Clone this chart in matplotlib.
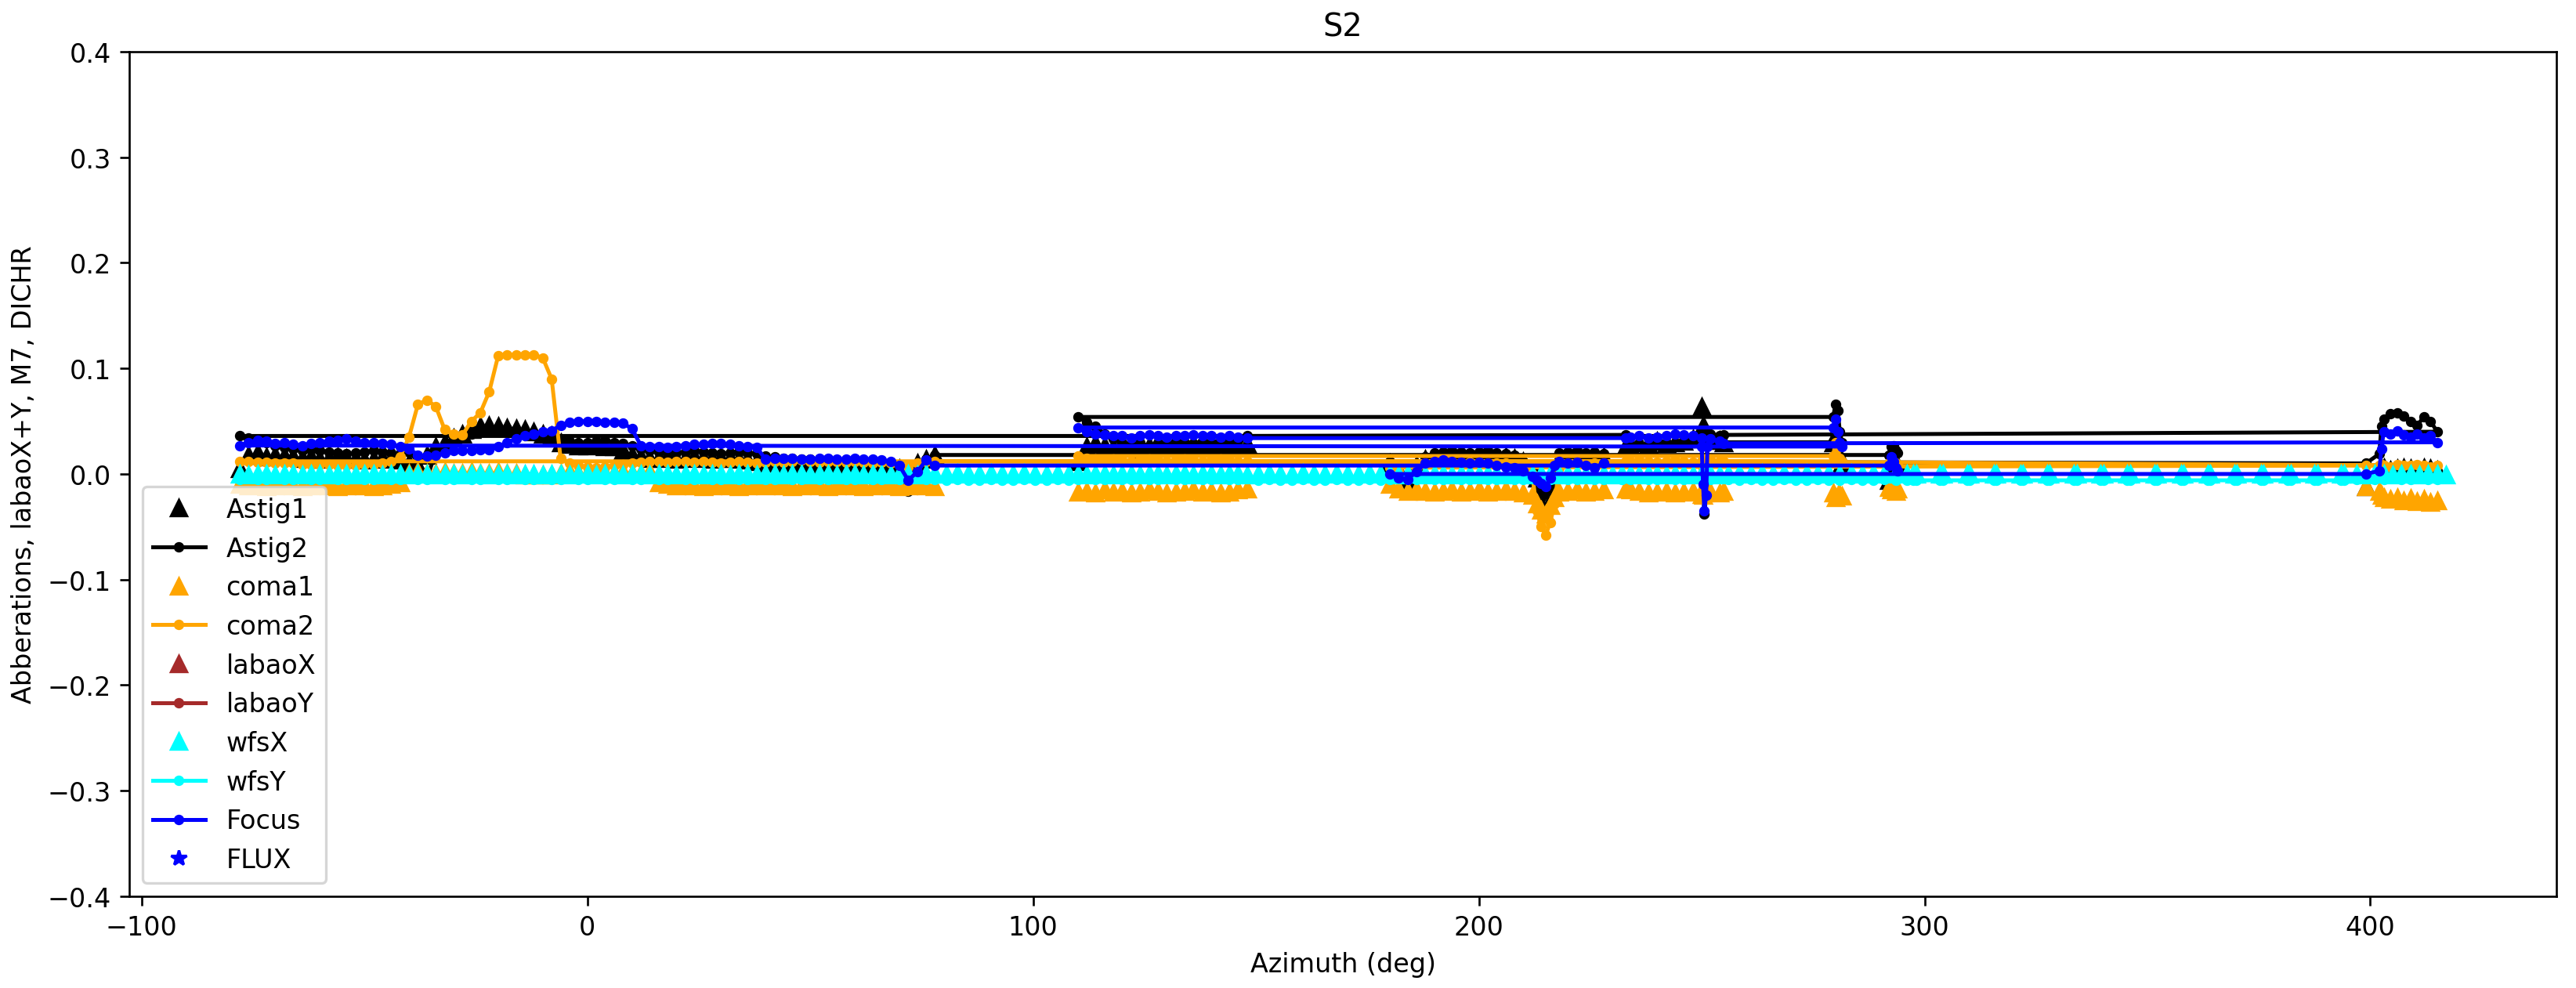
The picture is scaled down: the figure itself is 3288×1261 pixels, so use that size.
import matplotlib
matplotlib.use("Agg")
import matplotlib.pyplot as plt

# aberration samples in time order
# segments: C (228->180), G (399->415), D (255->233), B (148->110),
#           E (~280), D2 (~250 spike), A (-78->78), F (~293)
az = [228, 226, 224, 222, 220, 218, 217, 216, 215, 214, 213, 212, 210, 208,
      206, 204, 202, 200, 198, 196, 194, 192, 190, 188, 186, 184, 182, 180,
      399.0, 402.0, 402.5, 403.0, 404.5, 406.0, 407.5, 409.0, 410.5, 412.0, 413.5, 415.0,
      255, 254, 252, 250, 248, 246, 244, 242, 240, 238, 236, 234, 233,
      148, 146, 144, 142, 140, 138, 136, 134, 132, 130, 128, 126, 124, 122, 120,
      118, 116, 114, 112, 110,
      279.5, 280.0, 280.5, 281.0, 281.5,
      250.0, 250.3, 250.6, 251.0, 251.3,
      -78, -76, -74, -72, -70, -68, -66, -64, -62, -60,
      -58, -56, -54, -52, -50, -48, -46, -44, -42, -40,
      -38, -36, -34, -32, -30, -28, -26, -24, -22, -20,
      -18, -16, -14, -12, -10, -8, -6, -4, -2, 0,
      2, 4, 6, 8, 10, 12, 14, 16, 18, 20,
      22, 24, 26, 28, 30, 32, 34, 36, 38, 40,
      42, 44, 46, 48, 50, 52, 54, 56, 58, 60,
      62, 64, 66, 68, 70, 72, 74, 76, 78,
      292.0, 292.5, 293.0, 293.5, 294.0]

astig1 = [.016, .015, .016, .017, .016, .014, .004, -.008, -.015, -.010, -.004, .004, .012, .015,
          .016, .015, .016, .017, .016, .015, .016, .017, .016, .014, .008, -.006, .004, .010,
          -.012, .000, .005, .006, .004, .005, .006, .005, .004, .006, .005, .004,
          .030, .032, .034, .036, .033, .031, .030, .029, .031, .028, .030, .027, .026,
          .028, .026, .027, .025, .028, .026, .027, .025, .026, .028, .025, .027, .024, .026, .028,
          .025, .027, .029, .026, .012,
          .030, .036, .020, .006, .008,
          .064, .046, .040, .035, .032,
          .005, .018, .020, .016, .018, .017, .016, .015, .016, .014,
          .015, .016, .015, .014, .013, .014, .015, .014, .013, .010,
          .008, .018, .026, .030, .034, .038, .042, .045, .046, .045,
          .044, .043, .042, .040, .038, .036, .030, .028, .027, .027,
          .028, .026, .026, .022, .018, .016, .015, .015, .016, .014,
          .015, .016, .015, .014, .015, .015, .014, .013, .012, .010,
          .010, .009, .009, .009, .008, .008, .008, .009, .008, .008,
          .008, .007, .007, .006, .005, .003, .010, .014, .018,
          -.006, .012, .015, .010, .008]

astig2 = [.019, .021, .020, .022, .021, .020, .005, -.018, -.032, -.022, -.010, .002, .012, .018,
          .019, .020, .022, .021, .020, .021, .022, .021, .020, .016, .005, -.012, .000, .012,
          .010, .019, .045, .052, .057, .058, .055, .050, .046, .054, .050, .040,
          .037, .036, .038, .035, .030, .032, .029, .030, .031, .028, .027, .028, .037,
          .036, .032, .030, .031, .030, .031, .029, .030, .031, .028, .030, .026, .030, .028, .030,
          .033, .038, .045, .049, .054,
          .054, .066, .060, .040, .030,
          .030, -.015, -.038, -.020, .036,
          .036, .034, .032, .030, .027, .025, .024, .022, .023, .022,
          .021, .020, .019, .020, .021, .022, .021, .020, .019, .021,
          .012, -.004, .020, .028, .032, .035, .038, .041, .043, .044,
          .043, .041, .039, .036, .034, .032, .033, .031, .030, .030,
          .031, .032, .030, .029, .027, .024, .022, .021, .020, .020,
          .021, .022, .021, .020, .019, .020, .021, .020, .019, .017,
          .016, .015, .015, .014, .014, .013, .013, .012, .013, .012,
          .012, .011, .011, .010, .004, -.016, .006, .014, .018,
          .018, .026, .027, .022, .020]

coma1 = [-.015, -.016, -.017, -.015, -.016, -.017, -.022, -.030, -.038, -.034, -.028, -.020, -.018, -.016,
         -.015, -.016, -.017, -.015, -.016, -.017, -.015, -.016, -.017, -.016, -.015, -.016, -.014, -.010,
         -.012, -.016, -.020, -.022, -.024, -.022, -.025, -.023, -.026, -.024, -.027, -.025,
         -.016, -.018, -.017, -.019, -.016, -.017, -.018, -.016, -.017, -.018, -.016, -.015, -.014,
         -.014, -.015, -.017, -.018, -.016, -.017, -.015, -.016, -.017, -.018, -.016, -.015, -.017, -.018, -.016,
         -.017, -.015, -.018, -.016, -.017,
         -.018, -.022, -.020, -.019, -.021,
         -.016, -.020, -.018, -.015, -.016,
         -.010, -.011, -.010, -.012, -.011, -.010, -.011, -.012, -.011, -.010,
         -.011, -.012, -.011, -.010, -.011, -.012, -.011, -.010, -.008, .001,
         .002, .001, .001, .002, .001, .001, .002, .001, .001, .002,
         .001, .001, -.001, -.001, -.001, -.001, .001, .002, .001, .001,
         .002, .001, .001, .002, .001, .001, .002, -.008, -.010, -.011,
         -.010, -.011, -.012, -.011, -.010, -.011, -.012, -.011, -.010, -.011,
         -.010, -.011, -.012, -.011, -.010, -.011, -.012, -.011, -.010, -.011,
         -.012, -.011, -.010, -.011, -.012, -.011, -.010, -.011, -.012,
         -.013, -.015, -.014, -.016, -.014]

coma2 = [.009, .010, .009, .010, .009, .006, -.028, -.046, -.058, -.050, -.035, .000, .008, .009,
         .010, .010, .009, .010, .011, .010, .009, .010, .010, .009, .006, -.004, .002, .006,
         .008, .008, .009, .008, .007, .009, .008, .008, .009, .008, .007, .008,
         .012, .012, .013, .012, .011, .012, .013, .012, .011, .012, .013, .012, .012,
         .012, .012, .013, .014, .013, .012, .013, .014, .013, .012, .013, .014, .013, .012, .013,
         .014, .013, .014, .015, .017,
         .017, .030, .025, .015, .012,
         .012, .005, .000, .008, .012,
         .012, .012, .011, .011, .010, .010, .010, .009, .009, .009,
         .009, .008, .008, .008, .009, .009, .010, .012, .016, .035,
         .066, .070, .064, .042, .038, .037, .050, .058, .078, .112,
         .113, .113, .113, .113, .110, .090, .015, .010, .008, .007,
         .006, .007, .008, .009, .010, .011, .012, .012, .011, .012,
         .012, .011, .012, .011, .010, .011, .012, .011, .010, .011,
         .012, .011, .012, .013, .012, .011, .012, .012, .011, .012,
         .011, .010, .011, .010, .009, .007, .010, .012, .012,
         .010, .012, .011, .010, .009]

focus = [.010, .006, .008, .011, .010, .012, .008, -.004, -.012, -.009, -.006, -.002, .003, .006,
         .007, .008, .010, .011, .010, .011, .012, .013, .012, .010, .002, -.005, -.004, .000,
         .000, .003, .024, .040, .038, .041, .037, .035, .038, .034, .036, .030,
         .029, .031, .033, .034, .036, .037, .038, .036, .035, .034, .036, .035, .034,
         .034, .035, .036, .035, .036, .036, .037, .036, .036, .035, .036, .037, .036, .034, .036,
         .036, .037, .038, .040, .044,
         .044, .052, .040, .030, .026,
         .026, -.010, -.035, -.020, .026,
         .027, .030, .032, .031, .029, .030, .028, .027, .029, .030,
         .031, .032, .033, .031, .030, .030, .029, .028, .026, .024,
         .018, .017, .018, .020, .022, .022, .022, .023, .023, .026,
         .030, .033, .036, .038, .040, .041, .046, .049, .050, .050,
         .050, .049, .049, .048, .043, .027, .026, .026, .025, .026,
         .027, .028, .028, .029, .029, .028, .027, .026, .025, .014,
         .015, .015, .015, .014, .014, .015, .015, .014, .014, .015,
         .014, .014, .013, .012, .008, -.006, .002, .013, .008,
         .008, .016, .012, .006, .003]

# wavefront sensor samples (own sampling, sparse between ~297 and ~394)
wfs_az = [-78, -76, -74, -72, -70, -68, -66, -64, -62, -60,
          -58, -56, -54, -52, -50, -48, -46, -44, -42, -40,
          -38, -36, -34, -32, -30, -28, -26, -24, -22, -20,
          -18, -16, -14, -12, -10, -8, -6, -4, -2, 0,
          2, 4, 6, 8, 10, 12, 14, 16, 18, 20,
          22, 24, 26, 28, 30, 32, 34, 36, 38, 40,
          42, 44, 46, 48, 50, 52, 54, 56, 58, 60,
          62, 64, 66, 68, 70, 72, 74, 76, 78,
          80.5, 83, 85.5, 88, 90.5, 93, 95.5, 98, 100.5, 103, 105.5, 108,
          110, 112, 114, 116, 118, 120, 122, 124, 126, 128,
          130, 132, 134, 136, 138, 140, 142, 144, 146, 148,
          150.5, 153, 155.5, 158, 160.5, 163, 165.5, 168, 170.5, 173, 175.5, 178,
          180, 182, 184, 186, 188, 190, 192, 194, 196, 198,
          200, 202, 204, 206, 208, 210, 212, 214, 216, 218,
          220, 222, 224, 226, 228, 230, 232, 234, 236, 238,
          240, 242, 244, 246, 248, 250, 252, 254, 256,
          258.5, 261, 263.5, 266, 268.5, 271, 273.5, 276,
          278.5, 281, 283.5, 286, 288.5, 291, 293.5, 296,
          297.5, 298.1, 303.5, 304.1, 309.5, 310.1, 315.5, 316.1, 321.5, 322.1,
          327.5, 328.1, 333.5, 334.1, 339.5, 340.1, 345.5, 346.1, 351.5, 352.1,
          357.5, 358.1, 363.5, 364.1, 369.5, 370.1, 375.5, 376.1, 381.5, 382.1,
          387.5, 388.1, 393.5, 394.1,
          397, 399, 401, 403, 405, 407, 409, 411, 413, 415, 417]

wfsX = [.000, -.001, .000, .000, -.001, .000, .000, -.001, .000, .000,
        -.001, .000, .000, -.001, .000, .000, -.001, .000, .000, -.001,
        .000, .000, -.001, .000, .000, -.001, .000, .000, -.001, .000,
        .000, -.001, .000, .000, -.001, .000, .000, -.001, .000, .000,
        -.001, .000, .000, -.001, .000, .000, -.001, .000, .000, -.001,
        .000, .000, -.001, .000, .000, -.001, .000, .000, -.001, .000,
        .000, -.001, .000, .000, -.001, .000, .000, -.001, .000, .000,
        -.001, .000, .000, -.001, .000, .000, -.001, .000, .000,
        .000, .001, .000, .000, .001, .000, .000, .001, .000, .000, .001, .000,
        .000, -.001, .000, .000, -.001, .000, .000, -.001, .000, .000,
        -.001, .000, .000, -.001, .000, .000, -.001, .000, .000, -.001,
        .000, .001, .000, .000, .001, .000, .000, .001, .000, .000, .001, .000,
        .000, -.001, .000, .000, -.001, .000, .000, -.001, .000, .000,
        -.001, .000, .000, -.001, .000, .000, -.001, .000, .000, -.001,
        .000, .000, -.001, .000, .000, -.001, .000, .000, -.001, .000,
        .000, -.001, .000, .000, -.001, .000, .000, -.001, .000,
        .001, .000, .001, .000, .001, .000, .001, .000,
        .001, .000, .001, .000, .001, .000, .001, .000,
        .000, .000, .000, .000, .000, .000, .000, .000, .000, .000,
        .000, .000, .000, .000, .000, .000, .000, .000, .000, .000,
        .000, .000, .000, .000, .000, .000, .000, .000, .000, .000,
        .000, .000, .000, .000,
        .000, -.001, .000, .000, -.001, .000, .000, -.001, .000, .000, -.001]

wfsY = [-.005, -.004, -.005, -.005, -.004, -.005, -.005, -.004, -.005, -.005,
        -.004, -.005, -.005, -.004, -.005, -.005, -.004, -.005, -.005, -.004,
        -.005, -.005, -.004, -.005, -.005, -.004, -.005, -.005, -.004, -.005,
        -.005, -.004, -.005, -.005, -.004, -.005, -.005, -.004, -.005, -.005,
        -.004, -.005, -.005, -.004, -.005, -.005, -.004, -.005, -.005, -.004,
        -.005, -.005, -.004, -.005, -.005, -.004, -.005, -.005, -.004, -.005,
        -.005, -.004, -.005, -.005, -.004, -.005, -.005, -.004, -.005, -.005,
        -.004, -.005, -.005, -.004, -.005, -.005, -.004, -.005, -.005,
        -.006, -.005, -.006, -.006, -.005, -.006, -.006, -.005, -.006, -.006, -.005, -.006,
        -.005, -.004, -.005, -.005, -.004, -.005, -.005, -.004, -.005, -.005,
        -.004, -.005, -.005, -.004, -.005, -.005, -.004, -.005, -.005, -.004,
        -.006, -.005, -.006, -.006, -.005, -.006, -.006, -.005, -.006, -.006, -.005, -.006,
        -.005, -.004, -.005, -.005, -.004, -.005, -.005, -.004, -.005, -.005,
        -.004, -.005, -.005, -.004, -.005, -.005, -.004, -.005, -.005, -.004,
        -.005, -.005, -.004, -.005, -.005, -.004, -.005, -.005, -.004, -.005,
        -.005, -.004, -.005, -.005, -.004, -.005, -.005, -.004, -.005,
        -.006, -.005, -.006, -.006, -.005, -.006, -.006, -.005,
        -.006, -.006, -.005, -.006, -.006, -.005, -.006, -.006,
        -.006, -.006, -.006, -.006, -.006, -.006, -.006, -.006, -.006, -.006,
        -.006, -.006, -.006, -.006, -.006, -.006, -.006, -.006, -.006, -.006,
        -.006, -.006, -.006, -.006, -.006, -.006, -.006, -.006, -.006, -.006,
        -.006, -.006, -.006, -.006,
        -.005, -.004, -.005, -.005, -.004, -.005, -.005, -.004, -.005, -.005, -.004]

# no labao or flux samples fall inside the plotted range
labao_az = []
labaoX = []
labaoY = []
flux_az = []
flux = []

fig, ax = plt.subplots(figsize=(13.7, 5.2583), dpi=240)
fig.subplots_adjust(left=0.0502, right=0.9924, top=0.947, bottom=0.0927)

ax.plot(az, astig1, '^', color='black', label='Astig1')
ax.plot(az, astig2, '.-', color='black', label='Astig2')
ax.plot(az, coma1, '^', color='orange', label='coma1')
ax.plot(az, coma2, '.-', color='orange', label='coma2')
ax.plot(labao_az, labaoX, '^', color='brown', label='labaoX')
ax.plot(labao_az, labaoY, '.-', color='brown', label='labaoY')
ax.plot(wfs_az, wfsX, '^', color='cyan', label='wfsX')
ax.plot(wfs_az, wfsY, '.-', color='cyan', label='wfsY')
ax.plot(az, focus, '.-', color='blue', label='Focus')
ax.plot(flux_az, flux, '*', color='blue', label='FLUX')

ax.set_ylim(-0.4, 0.4)
ax.set_title('S2')
ax.set_xlabel('Azimuth (deg)')
ax.set_ylabel('Abberations, labaoX+Y, M7, DICHR')
ax.legend(loc='lower left')

fig.savefig('out.png', dpi=240)
